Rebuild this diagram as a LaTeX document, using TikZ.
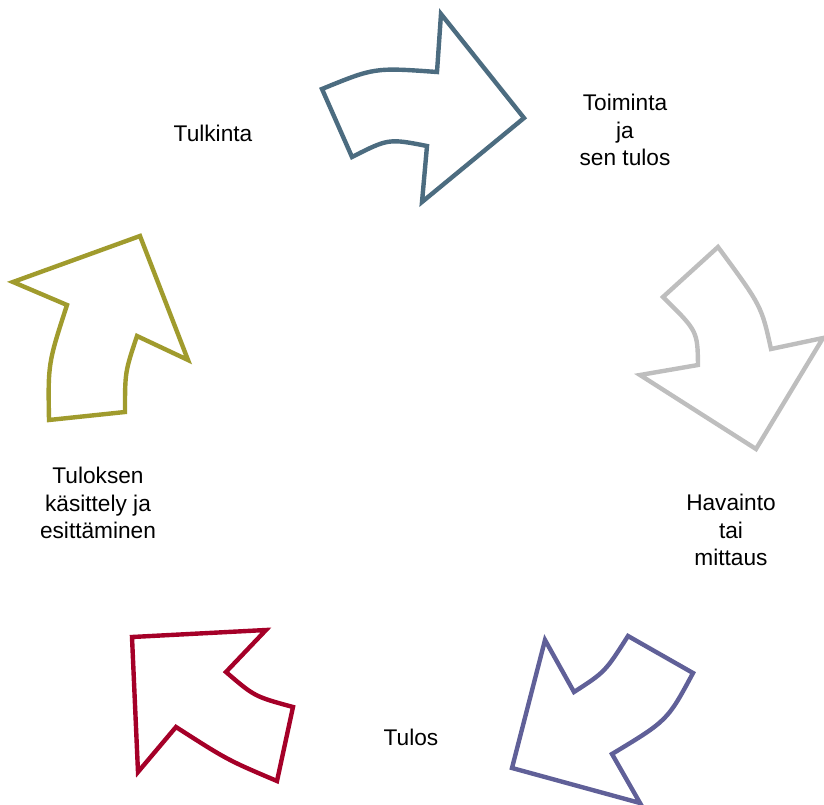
\documentclass[tikz,border=0pt]{standalone}
\usepackage{fontspec}
\setmainfont{Liberation Sans}
\definecolor{actslate}{RGB}{76,108,128}
\definecolor{obsgray}{RGB}{190,190,190}
\definecolor{resviolet}{RGB}{96,96,152}
\definecolor{procred}{RGB}{165,0,40}
\definecolor{interpolive}{RGB}{160,155,45}

\begin{document}
\begin{tikzpicture}[x=0.75pt,y=-0.75pt,
    cyclearrow/.style={line width=3.3pt,line join=miter},
    steplabel/.style={align=center,font=\fontsize{17}{20.6}\selectfont,inner sep=0pt}]
  \useasboundingbox (0,0) rectangle (824,805);
  % arrows of the cycle
  \draw[cyclearrow,actslate] (322,89) .. controls (374.5,67.5) .. (437,72) -- (441,14) -- (524,118)
    -- (422,202) -- (427,146) .. controls (388.5,138.5) .. (352,157) -- cycle;
  \draw[cyclearrow,obsgray] (718,247) -- (663,297) .. controls (697.5,331) .. (698,365) -- (640,375)
    -- (756,449) -- (823,338) -- (771,349) .. controls (761.5,306) .. cycle;
  \draw[cyclearrow,resviolet] (628,636) -- (693,673) .. controls (667.5,720.5) .. (612,754) -- (640,803)
    -- (512,768) -- (545,640) -- (574,692) .. controls (605,672) .. cycle;
  \draw[cyclearrow,procred] (132,637) -- (266,630) -- (226,672) .. controls (254.5,696.5) .. (293,707)
    -- (277,781) .. controls (227.5,760) .. (176,727) -- (138,772) -- cycle;
  \draw[cyclearrow,interpolive] (140,236) -- (188,360) -- (137,336) .. controls (125,372) .. (125,412)
    -- (49,420) .. controls (48,363.5) .. (67,305) -- (13,282) -- cycle;
  % labels
  \node[steplabel] (tulkinta) at (213,133) {Tulkinta};
  \node[steplabel] (toiminta) at (625,130) {Toiminta\\ja\\sen tulos};
  \node[steplabel] (havainto) at (731,530) {Havainto\\tai\\mittaus};
  \node[steplabel] (tulos) at (411,737) {Tulos};
  \node[steplabel] (kasittely) at (98,503) {Tuloksen\\käsittely ja\\esittäminen};
\end{tikzpicture}
\end{document}
